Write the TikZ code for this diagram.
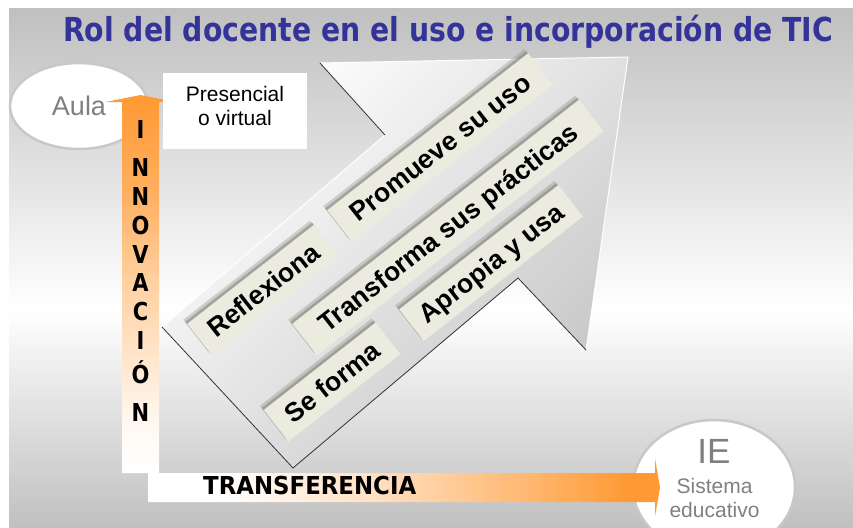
\documentclass[tikz,border=0pt]{standalone}
\usepackage{fontspec}
\setmainfont{Liberation Sans}
\newfontfamily\titlefont{DejaVu Sans}
\newfontfamily\vfont[FakeStretch=0.85]{DejaVu Sans}
\usetikzlibrary{shapes.geometric,shadows}
\definecolor{titleblue}{HTML}{333399}
\definecolor{orng}{HTML}{FF9933}
\definecolor{bgray}{HTML}{C0C0C0}
\definecolor{ellb}{HTML}{C8C8C8}
\definecolor{txtgray}{HTML}{808080}
\definecolor{boxc}{HTML}{EBEBE0}
\definecolor{boxdk}{HTML}{8A8A82}
\colorlet{orA}{orng!6}
\colorlet{orB}{orng!45}
\colorlet{orC}{orng!78}
\colorlet{orD}{orng!30}
\colorlet{orE}{orng!70}
\pgfdeclareverticalshading{bgshade}{100bp}{color(0bp)=(bgray); color(25bp)=(bgray); color(46bp)=(white); color(75bp)=(bgray); color(100bp)=(bgray)}
\pgfdeclareverticalshading{vbarshade}{100bp}{color(0bp)=(white); color(25bp)=(white); color(31bp)=(orA); color(50bp)=(orB); color(62bp)=(orC); color(75bp)=(orng); color(100bp)=(orng)}
\pgfdeclarehorizontalshading{hbarshade}{100bp}{color(0bp)=(white); color(25bp)=(white); color(32bp)=(white); color(47bp)=(orD); color(62bp)=(orE); color(72bp)=(orng); color(100bp)=(orng)}
\begin{document}
\begin{tikzpicture}[x=1pt,y=-1pt,
  darkedge/.style={draw=black!80, line width=0.8pt},
  lightedge/.style={draw=white, line width=1pt},
  lbl/.style={fill=boxc, rotate=38, inner sep=0pt, minimum height=40pt,
    text height=19pt, text depth=0pt, text=black,
    font=\bfseries\fontsize{26.5}{26.5}\selectfont,
    general shadow={fill=boxdk, opacity=.35, shadow xshift=-4pt, shadow yshift=4pt},
    general shadow={fill=boxdk, opacity=.6, shadow xshift=-2pt, shadow yshift=2pt}},
  ellnode/.style={ellipse, draw=ellb, line width=2.5pt, fill=white, inner sep=0pt},
  graytext/.style={text=txtgray, inner sep=0pt, anchor=base},
  vletter/.style={anchor=base, inner sep=0pt, font=\vfont\bfseries\fontsize{24.7}{25}\selectfont}]
\useasboundingbox (0,0) rectangle (853,527);
% background
\fill[white] (0,0) rectangle (853,527);
\shade[shading=bgshade] (9,9) rectangle (853,527);
% title
\node[anchor=base west, inner sep=0pt, text=titleblue] (title) at (63,42)
  {\resizebox{770pt}{\height}{\titlefont\bfseries\fontsize{33}{33}\selectfont Rol del docente en el uso e incorporación de TIC}};
% Aula ellipse
\node[ellnode, minimum width=138pt, minimum height=86pt, text=txtgray, font=\fontsize{27}{27}\selectfont] (aula) at (79,106) {Aula};
% big arrow
\coordinate (p1) at (320,63);
\coordinate (p2) at (628,57);
\coordinate (p3) at (586,350);
\coordinate (p4) at (518,278);
\coordinate (p5) at (293,468);
\coordinate (p6) at (162,327);
\coordinate (p7) at (385,135);
\shade[top color=white, bottom color=gray!45, shading angle=45] (p1) -- (p2) -- (p3) -- (p4) -- (p5) -- (p6) -- (p7) -- cycle;
\draw[lightedge] (p1) -- (p2) -- (p3);
\draw[lightedge] (p6) -- (p7);
\draw[darkedge] (p1) -- (p7);
\draw[darkedge] (p6) -- (p5) -- (p4) -- (p3);
% labels
\node[lbl, minimum width=161pt] (refl) at (263,290) {Reflexiona};
\node[lbl, minimum width=255pt] (prom) at (440,147.5) {Promueve su uso};
\node[lbl, minimum width=364pt] (trans) at (448,227.5) {Transforma sus prácticas};
\node[lbl, minimum width=142pt] (sefor) at (332,382) {Se forma};
\node[lbl, minimum width=202pt] (apro) at (491,263) {Apropia y usa};
% vertical bar (innovacion)
\coordinate (vb1) at (122,473);
\coordinate (vb2) at (122,102);
\coordinate (vb3) at (105.5,102);
\coordinate (vtip) at (140.5,95);
\coordinate (vb4) at (175.5,102);
\coordinate (vb5) at (159,102);
\coordinate (vb6) at (159,473);
\shade[shading=vbarshade] (vb1) -- (vb2) -- (vb3) -- (vtip) -- (vb4) -- (vb5) -- (vb6) -- cycle;
\foreach \yy/\cc [count=\i] in {138/I,176/N,205/N,234/O,263/V,291/A,320/C,349/I,383/Ó,421/N}
  \node[vletter] (inn\i) at (140.5,\yy) {\cc};
% presencial box
\node[fill=white, minimum width=144pt, minimum height=76pt, inner sep=0pt] (pres) at (235,111) {};
\node[anchor=base, inner sep=0pt, font=\fontsize{21}{21}\selectfont] (pres1) at (235,101) {Presencial};
\node[anchor=base, inner sep=0pt, font=\fontsize{21}{21}\selectfont] (pres2) at (235,125) {o virtual};
% IE ellipse
\begin{scope}
\clip (0,0) rectangle (853,527);
\node[ellnode, minimum width=162pt, minimum height=134pt] (ie) at (714,487) {};
\end{scope}
\node[graytext, font=\fontsize{35}{35}\selectfont] (ie1) at (714,463) {IE};
\node[graytext, font=\fontsize{21}{21}\selectfont] (ie2) at (714.5,493) {Sistema};
\node[graytext, font=\fontsize{21}{21}\selectfont] (ie3) at (714.5,517) {educativo};
% horizontal bar (transferencia)
\coordinate (hb1) at (148,473);
\coordinate (hb2) at (655,473);
\coordinate (hb3) at (655,458.5);
\coordinate (htip) at (660,487.5);
\coordinate (hb4) at (655,516.5);
\coordinate (hb5) at (655,502);
\coordinate (hb6) at (148,502);
\shade[shading=hbarshade] (hb1) -- (hb2) -- (hb3) -- (htip) -- (hb4) -- (hb5) -- (hb6) -- cycle;
\node[anchor=base west, inner sep=0pt] (transf) at (203,494)
  {\resizebox{213pt}{\height}{\vfont\bfseries\fontsize{24.7}{25}\selectfont TRANSFERENCIA}};
\end{tikzpicture}
\end{document}
